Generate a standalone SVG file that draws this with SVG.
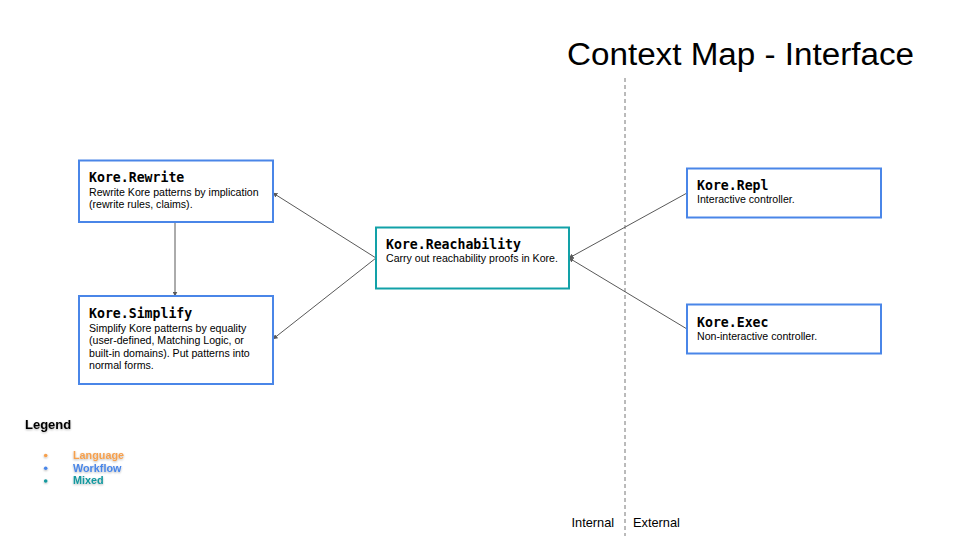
<svg xmlns="http://www.w3.org/2000/svg" width="960" height="540" viewBox="0 0 960 540">
  <defs>
    <marker id="arr" viewBox="0 0 10 10" refX="9" refY="5" markerWidth="5" markerHeight="5" orient="auto" markerUnits="userSpaceOnUse">
      <path d="M0,0 L10,5 L0,10 z" fill="#595959"/>
    </marker>
    <filter id="sh" x="-20%" y="-50%" width="140%" height="200%">
      <feGaussianBlur in="SourceAlpha" stdDeviation="1"/>
      <feOffset dx="0" dy="1" result="b"/>
      <feComponentTransfer><feFuncA type="linear" slope="0.3"/></feComponentTransfer>
      <feMerge><feMergeNode/><feMergeNode in="SourceGraphic"/></feMerge>
    </filter>
  </defs>
  <style>
    .box { fill: #ffffff; stroke-width: 2; }
    .blue { stroke: #4a86e8; }
    .teal { stroke: #12a1a8; }
    .ttl { font-family: "DejaVu Sans Mono", "Liberation Mono", monospace; font-weight: bold; font-size: 13.2px; fill: #000000; }
    .desc { font-family: "Liberation Sans", Arial, sans-serif; font-size: 10.6px; fill: #000000; }
    .conn { stroke: #595959; stroke-width: 1; fill: none; marker-end: url(#arr); }
    .lg { font-family: "Liberation Sans", Arial, sans-serif; font-weight: bold; font-size: 10.8px; }
  </style>
  <rect width="960" height="540" fill="#ffffff"/>

  <text x="567" y="64.5" font-family="Liberation Sans, Arial, sans-serif" font-size="31" fill="#000000" textLength="347" lengthAdjust="spacingAndGlyphs">Context Map - Interface</text>

  <line x1="625" y1="78" x2="625" y2="536" stroke="#777777" stroke-width="1" stroke-dasharray="4,3"/>
  <text x="571.5" y="527" font-family="Liberation Sans, Arial, sans-serif" font-size="12.8" fill="#000000">Internal</text>
  <text x="633" y="527" font-family="Liberation Sans, Arial, sans-serif" font-size="12.8" fill="#000000">External</text>

  <g id="connectors">
    <line class="conn" x1="175" y1="222" x2="175" y2="296"/>
    <line class="conn" x1="376" y1="258" x2="273" y2="193"/>
    <line class="conn" x1="376" y1="258" x2="273" y2="339"/>
    <line class="conn" x1="687" y1="193" x2="569" y2="258"/>
    <line class="conn" x1="687" y1="329" x2="569" y2="258"/>
  </g>

  <g id="kore-rewrite">
    <rect class="box blue" x="79" y="160.5" width="194" height="61.5"/>
    <text class="ttl" x="89" y="182">Kore.Rewrite</text>
    <text class="desc" x="89" y="195.5">Rewrite Kore patterns by implication</text>
    <text class="desc" x="89" y="207.7">(rewrite rules, claims).</text>
  </g>

  <g id="kore-simplify">
    <rect class="box blue" x="79" y="296" width="194" height="88"/>
    <text class="ttl" x="89" y="317.5">Kore.Simplify</text>
    <text class="desc" x="89" y="331.5">Simplify Kore patterns by equality</text>
    <text class="desc" x="89" y="344">(user-defined, Matching Logic, or</text>
    <text class="desc" x="89" y="356.5">built-in domains). Put patterns into</text>
    <text class="desc" x="89" y="369">normal forms.</text>
  </g>

  <g id="kore-reachability">
    <rect class="box teal" x="376" y="227.5" width="193" height="61"/>
    <text class="ttl" x="386" y="248.5">Kore.Reachability</text>
    <text class="desc" x="386" y="261.7">Carry out reachability proofs in Kore.</text>
  </g>

  <g id="kore-repl">
    <rect class="box blue" x="687" y="168.5" width="194" height="49"/>
    <text class="ttl" x="697" y="190">Kore.Repl</text>
    <text class="desc" x="697" y="203.3">Interactive controller.</text>
  </g>

  <g id="kore-exec">
    <rect class="box blue" x="687" y="304.5" width="194" height="49"/>
    <text class="ttl" x="697" y="327">Kore.Exec</text>
    <text class="desc" x="697" y="340">Non-interactive controller.</text>
  </g>

  <g id="legend">
    <text x="25" y="429" font-family="Liberation Sans, Arial, sans-serif" font-weight="bold" font-size="13" fill="#000000" filter="url(#sh)">Legend</text>
    <g filter="url(#sh)">
      <circle cx="45.7" cy="455.5" r="1.8" fill="#f6a04d"/>
      <circle cx="45.7" cy="468.2" r="1.8" fill="#4a86e8"/>
      <circle cx="45.7" cy="481" r="1.8" fill="#12989e"/>
      <text class="lg" x="73" y="459" fill="#f6a04d">Language</text>
      <text class="lg" x="73" y="471.7" fill="#4a86e8">Workflow</text>
      <text class="lg" x="73" y="484.4" fill="#12989e">Mixed</text>
    </g>
  </g>
</svg>
